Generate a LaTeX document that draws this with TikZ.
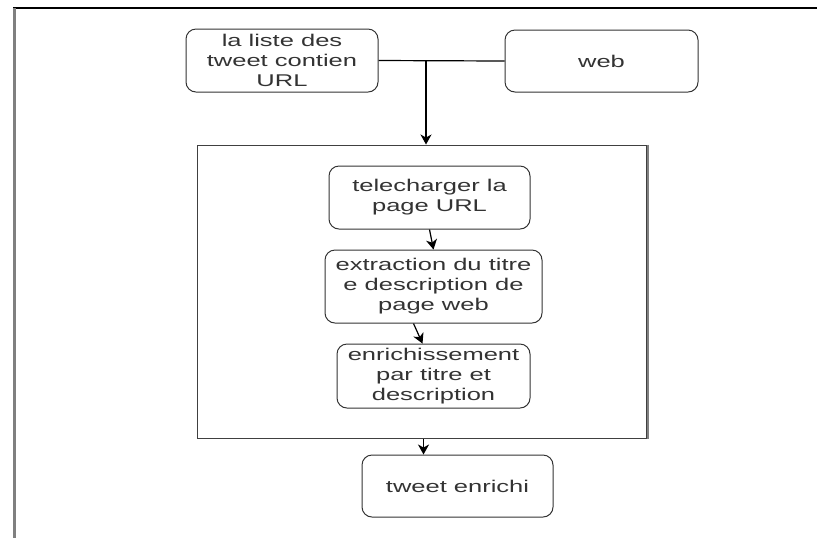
\documentclass[tikz,border=0pt]{standalone}
\usepackage{fontspec}
\setmainfont{Liberation Sans}[FakeStretch=1.5]
\usetikzlibrary{arrows.meta}
\begin{document}
\begin{tikzpicture}[x=0.5pt,y=-0.5pt,
    box/.style={draw=black!80,rounded corners=5pt,align=center,text=black!80,
        font=\fontsize{8.5pt}{10pt}\selectfont,inner sep=0pt,line width=0.5pt},
    arr/.style={-{Stealth[length=5pt,width=5.5pt,inset=1.5pt]},line width=0.6pt}]
    \useasboundingbox (0,0) rectangle (817,538);
    % page frame
    \draw[line width=1pt] (13,8) -- (817,8);
    \draw[gray,line width=1.5pt] (14,8) -- (14,538);
    % inputs
    \node[box,minimum width=96pt,minimum height=31.5pt] (liste) at (282,60.5) {la liste des\\tweet contien\\URL};
    \node[box,minimum width=96.5pt,minimum height=31pt] (web) at (601.5,61) {web};
    % processing block
    \node[draw=black!75,line width=0.5pt,minimum width=224.5pt,minimum height=146.75pt,inner sep=0pt] (cont) at (421.5,291.75) {};
    \draw[gray,line width=1.2pt] ([xshift=0.6pt]cont.north east) -- ([xshift=0.6pt]cont.south east);
    \node[box,minimum width=100.5pt,minimum height=31.5pt] (telech) at (429.5,197.5) {telecharger la\\page URL};
    \node[box,minimum width=108.5pt,minimum height=36.5pt] (extract) at (433.5,286.5) {extraction du titre\\e description de\\page web};
    \node[box,minimum width=96.5pt,minimum height=32pt] (enrich) at (433.5,376) {enrichissement\\par titre et\\description};
    % output
    \node[box,minimum width=95.5pt,minimum height=31pt] (tweet) at (457.5,486) {tweet enrichi};
    % connectors
    \draw[line width=0.6pt] (liste.east) -- (web.west);
    \coordinate (fork) at (426,61);
    \draw[arr] (fork) -- (fork |- cont.north);
    \draw[arr] (telech.south) -- (extract.north);
    \draw[arr] ([xshift=-10pt]extract.south) -- ([xshift=-5.5pt]enrich.north);
    \draw[arr] ([xshift=1pt]cont.south) -- ([xshift=1pt]cont.south |- tweet.north);
\end{tikzpicture}
\end{document}
